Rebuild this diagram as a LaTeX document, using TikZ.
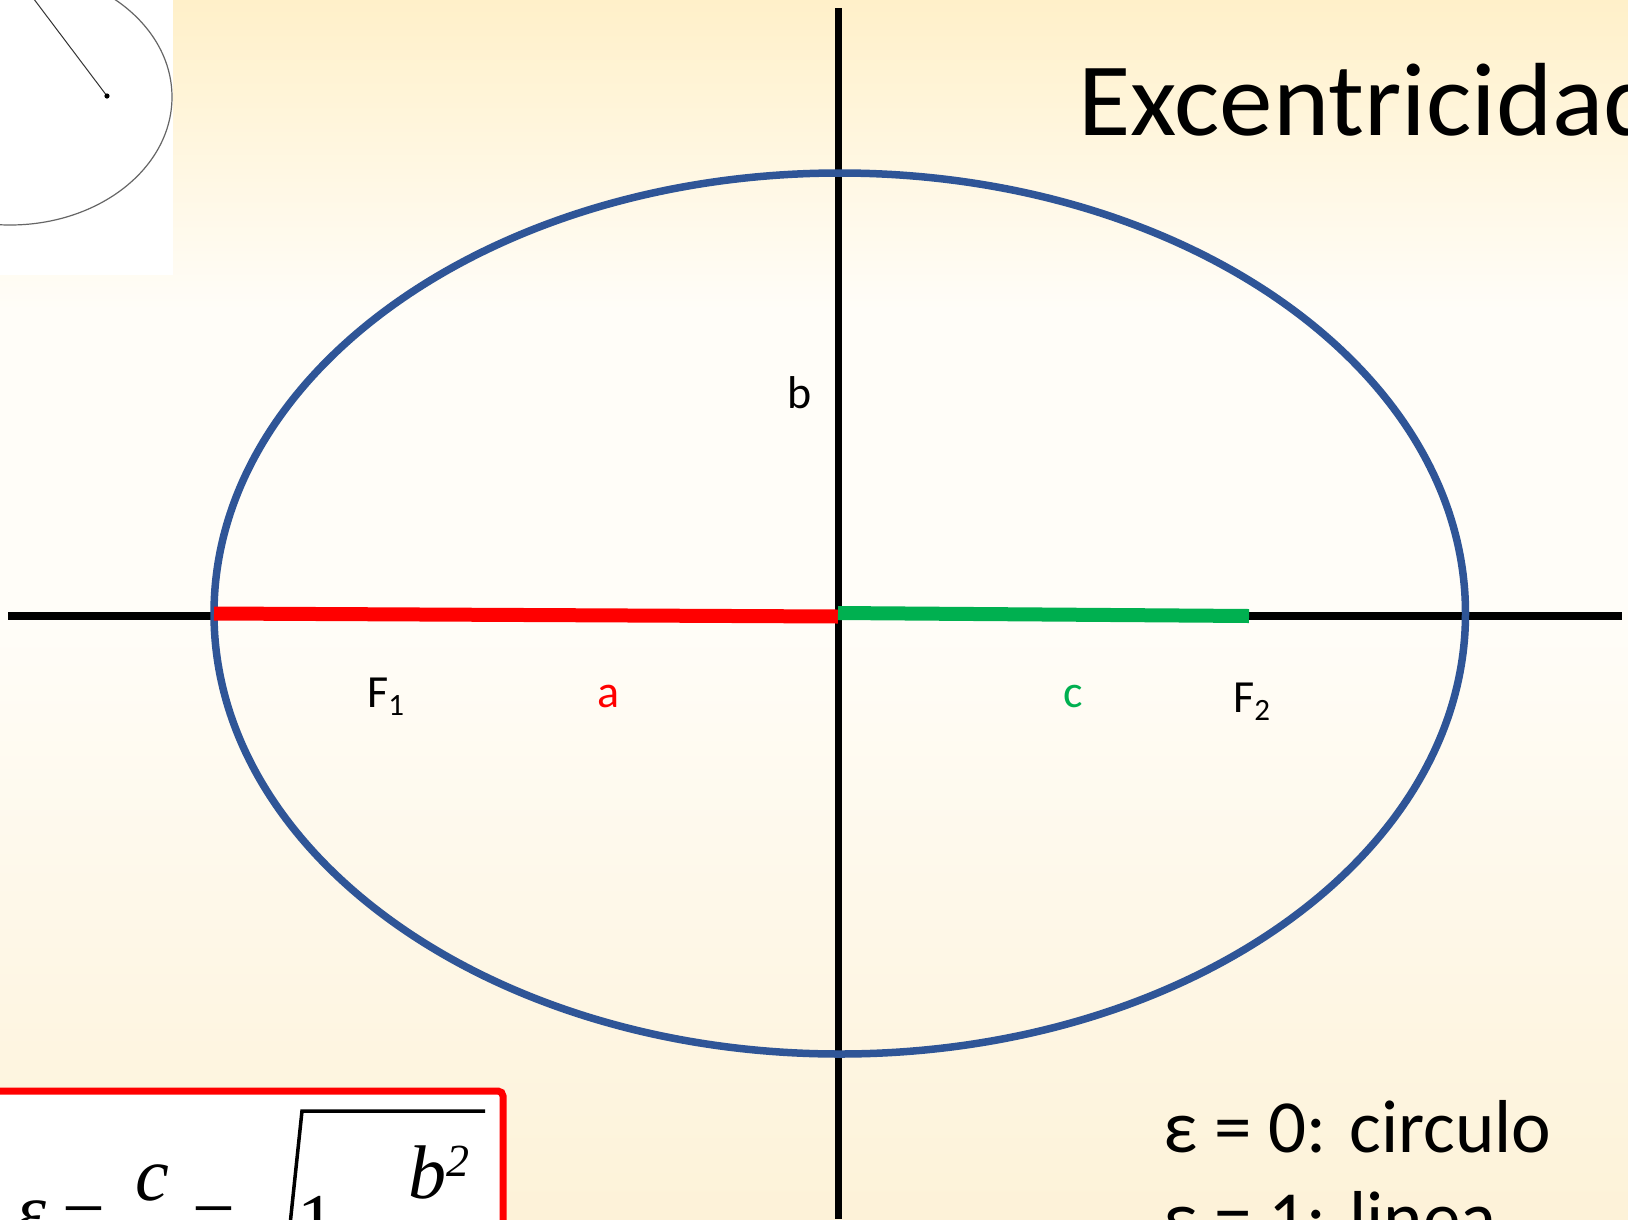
\documentclass[tikz,border=0pt]{standalone}
\usepackage{fontspec}
\setmainfont{Carlito}
\newfontfamily\mathserif{Liberation Serif}
\definecolor{ellblue}{HTML}{2F5597}
\definecolor{segred}{HTML}{FF0000}
\definecolor{seggreen}{HTML}{00B050}
\definecolor{bgtop}{HTML}{FFF0C9}
\definecolor{bgmid}{HTML}{FFFDF8}
\definecolor{bgbot}{HTML}{FDF2D8}
\tikzset{
  axisline/.style={line width=7.5pt, black},
  ellline/.style={line width=7.5pt, ellblue},
  seg/.style={line width=14pt},
  lbl/.style={inner sep=0pt, anchor=base west, font=\fontsize{46}{50}\selectfont},
  bigtxt/.style={inner sep=0pt, anchor=base west, font=\fontsize{75}{80}\selectfont},
  mth/.style={inner sep=0pt, anchor=base west, font=\mathserif\fontsize{76}{80}\selectfont},
}
\begin{document}
\begin{tikzpicture}[x=1pt,y=-1pt]
\useasboundingbox (0,0) rectangle (1628,1219);
\clip (0,0) rectangle (1628,1219);
% background
\shade[top color=bgtop, bottom color=bgmid, middle color=bgmid] (0,0) rectangle (1628,620);
\shade[top color=bgmid, bottom color=bgbot] (0,619) rectangle (1628,1219);
% inset picture top-left
\fill[white] (0,0) rectangle (173,275);
\draw[gray!80!black, line width=1.2pt] (10,97) ellipse [x radius=162, y radius=128];
\coordinate (focus) at (107,96);
\coordinate (ray) at (12,-30);
\draw[black!80, line width=1pt] (ray) -- (focus);
\fill[black] (focus) circle (2.6);
% axes
\coordinate (hl) at (8,616);
\coordinate (hr) at (1622,616);
\coordinate (vt) at (838.5,8);
\coordinate (vb) at (838.5,1219);
\draw[axisline] (hl) -- (hr);
\draw[axisline] (vt) -- (vb);
% ellipse
\draw[ellline] (839.75,613.5) ellipse [x radius=625.75, y radius=440.5];
% segments
\coordinate (ra) at (214,613.5);
\coordinate (rb) at (838,616.5);
\coordinate (ga) at (838,613);
\coordinate (gb) at (1249,616);
\draw[seg, segred] (ra) -- (rb);
\draw[seg, seggreen] (ga) -- (gb);
% labels
\node[lbl] (lb) at (787,408) {b};
\node[lbl] (lf1) at (367,707) {F\raisebox{-8pt}{\fontsize{31}{32}\selectfont 1}};
\node[lbl, text=segred] (la) at (597,707) {a};
\node[lbl, text=seggreen] (lc) at (1063,707) {c};
\node[lbl] (lf2) at (1233,712) {F\raisebox{-8pt}{\fontsize{31}{32}\selectfont 2}};
% title
\node[inner sep=0pt, anchor=base west, font=\fontsize{104}{110}\selectfont] (title) at (1078,135) {\scalebox{1.03}[1]{Excentricidad}};
% epsilon cases
\node[bigtxt] (e0) at (1163,1152) {ε = 0: circulo};
\node[bigtxt] (e1) at (1163,1243) {ε = 1: linea};
% formula box
\draw[segred, line width=7pt, fill=white, rounded corners=5pt] (-20,1091) rectangle (503,1300);
\node[mth] (feps) at (16,1236) {\itshape ε};
\node[mth] (feq1) at (62,1241) {=};
\node[mth] (fc) at (135,1200) {\itshape c};
\node[mth] (feq2) at (192,1241) {=};
\coordinate (rad0) at (290,1225);
\coordinate (rad1) at (302,1111);
\coordinate (rad2) at (485,1111);
\draw[black, line width=3.5pt] (rad0) -- (rad1) -- (rad2);
\node[mth] (fone) at (297,1246) {1};
\node[mth] (fb) at (408,1198) {\itshape b\raisebox{22pt}{\fontsize{46}{48}\selectfont 2}};
\end{tikzpicture}
\end{document}
